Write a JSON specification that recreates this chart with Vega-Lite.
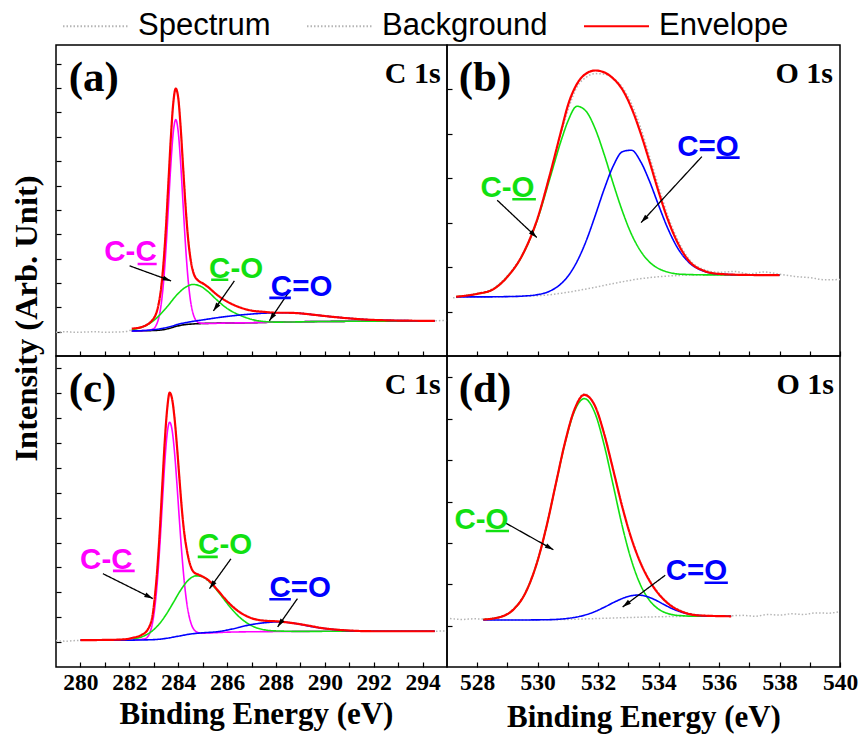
{
"$schema": "https://vega.github.io/schema/vega-lite/v6.json",
"padding": {"left": 9, "top": -8, "right": 4, "bottom": 2},
"config": {
  "view": {"stroke": "#000", "strokeWidth": 1.5},
  "axis": {"grid": false, "domain": false, "ticks": true, "tickColor": "#000", "tickSize": -5, "tickWidth": 1.2, "labelFont": "Liberation Serif", "labelFontWeight": "bold", "labelFontSize": 23.5, "labelColor": "#000", "titleFont": "Liberation Serif", "titleFontWeight": "bold", "titleFontSize": 31, "titleColor": "#000"}
},
"datasets": {
"A": [
{"s":"Spectrum","x":279.0,"y":7.6},{"s":"Spectrum","x":279.4,"y":7.8},{"s":"Spectrum","x":279.8,"y":7.6},{"s":"Spectrum","x":280.2,"y":7.7},{"s":"Spectrum","x":280.6,"y":7.8},{"s":"Spectrum","x":281.0,"y":7.6},{"s":"Spectrum","x":281.4,"y":7.7},{"s":"Spectrum","x":281.8,"y":7.8},{"s":"Spectrum","x":282.1,"y":8.4},{"s":"Spectrum","x":282.5,"y":9.4},{"s":"Spectrum","x":283.0,"y":12.3},{"s":"Spectrum","x":283.2,"y":16.9},{"s":"Spectrum","x":283.4,"y":30.5},{"s":"Spectrum","x":283.6,"y":56.5},{"s":"Spectrum","x":283.8,"y":81.8},{"s":"Spectrum","x":283.9,"y":86.0},{"s":"Spectrum","x":284.0,"y":83.4},{"s":"Spectrum","x":284.2,"y":61.8},{"s":"Spectrum","x":284.4,"y":39.0},{"s":"Spectrum","x":284.6,"y":27.9},{"s":"Spectrum","x":284.8,"y":24.5},{"s":"Spectrum","x":285.2,"y":22.3},{"s":"Spectrum","x":285.6,"y":19.7},{"s":"Spectrum","x":286.0,"y":17.6},{"s":"Spectrum","x":286.5,"y":15.8},{"s":"Spectrum","x":287.0,"y":14.7},{"s":"Spectrum","x":288.0,"y":14.0},{"s":"Spectrum","x":289.0,"y":13.8},{"s":"Spectrum","x":290.3,"y":12.7},{"s":"Spectrum","x":291.7,"y":11.8},{"s":"Spectrum","x":292.4,"y":11.5},{"s":"Spectrum","x":293.5,"y":11.4},{"s":"Spectrum","x":294.5,"y":11.3},{"s":"Spectrum","x":294.8,"y":11.4},{"s":"Spectrum","x":295.0,"y":11.3},
{"s":"Base","x":282.1,"y":8.05},{"s":"Base","x":282.8,"y":8.15},{"s":"Base","x":283.3,"y":8.35},{"s":"Base","x":283.6,"y":8.8},{"s":"Base","x":283.9,"y":9.5},{"s":"Base","x":284.2,"y":10.0},{"s":"Base","x":284.6,"y":10.3},{"s":"Base","x":285.0,"y":10.45},{"s":"Base","x":286.0,"y":10.6},{"s":"Base","x":287.0,"y":10.7},{"s":"Base","x":288.0,"y":10.9},{"s":"Base","x":290.0,"y":11.1},{"s":"Base","x":292.0,"y":11.2},{"s":"Base","x":294.5,"y":11.3},
{"s":"C-C","x":282.1,"y":8.05},{"s":"C-C","x":282.8,"y":8.3},{"s":"C-C","x":283.0,"y":8.8},{"s":"C-C","x":283.1,"y":9.9},{"s":"C-C","x":283.2,"y":12.1},{"s":"C-C","x":283.3,"y":16.4},{"s":"C-C","x":283.4,"y":23.7},{"s":"C-C","x":283.5,"y":34.5},{"s":"C-C","x":283.6,"y":48.0},{"s":"C-C","x":283.7,"y":61.6},{"s":"C-C","x":283.8,"y":72.0},{"s":"C-C","x":283.9,"y":76.0},{"s":"C-C","x":284.0,"y":72.2},{"s":"C-C","x":284.1,"y":62.1},{"s":"C-C","x":284.2,"y":48.8},{"s":"C-C","x":284.3,"y":35.6},{"s":"C-C","x":284.4,"y":25.1},{"s":"C-C","x":284.5,"y":18.0},{"s":"C-C","x":284.6,"y":13.9},{"s":"C-C","x":284.7,"y":11.8},{"s":"C-C","x":284.8,"y":10.9},{"s":"C-C","x":284.9,"y":10.6},{"s":"C-C","x":285.2,"y":10.45},{"s":"C-C","x":286.0,"y":10.6},{"s":"C-C","x":287.0,"y":10.7},{"s":"C-C","x":288.0,"y":10.9},{"s":"C-C","x":290.0,"y":11.1},{"s":"C-C","x":292.0,"y":11.2},{"s":"C-C","x":294.5,"y":11.3},
{"s":"C-O","x":282.1,"y":8.45},{"s":"C-O","x":282.5,"y":9.25},{"s":"C-O","x":283.0,"y":11.4},{"s":"C-O","x":283.5,"y":15.4},{"s":"C-O","x":284.0,"y":20.1},{"s":"C-O","x":284.3,"y":22.1},{"s":"C-O","x":284.6,"y":23.0},{"s":"C-O","x":284.9,"y":22.5},{"s":"C-O","x":285.2,"y":20.85},{"s":"C-O","x":285.6,"y":17.9},{"s":"C-O","x":286.0,"y":15.3},{"s":"C-O","x":286.5,"y":13.2},{"s":"C-O","x":287.0,"y":11.8},{"s":"C-O","x":287.5,"y":11.1},{"s":"C-O","x":288.0,"y":10.9},{"s":"C-O","x":290.0,"y":11.1},{"s":"C-O","x":292.0,"y":11.2},{"s":"C-O","x":294.5,"y":11.3},
{"s":"C=O","x":282.1,"y":8.05},{"s":"C=O","x":282.8,"y":8.3},{"s":"C=O","x":283.3,"y":8.8},{"s":"C=O","x":283.7,"y":9.5},{"s":"C=O","x":284.0,"y":10.2},{"s":"C=O","x":284.5,"y":11.0},{"s":"C=O","x":285.0,"y":11.6},{"s":"C=O","x":285.5,"y":12.2},{"s":"C=O","x":286.2,"y":12.9},{"s":"C=O","x":287.0,"y":13.5},{"s":"C=O","x":287.6,"y":13.8},{"s":"C=O","x":288.3,"y":13.9},{"s":"C=O","x":289.0,"y":13.7},{"s":"C=O","x":289.6,"y":13.2},{"s":"C=O","x":290.3,"y":12.6},{"s":"C=O","x":291.0,"y":12.1},{"s":"C=O","x":291.7,"y":11.7},{"s":"C=O","x":292.4,"y":11.5},{"s":"C=O","x":293.5,"y":11.35},{"s":"C=O","x":294.5,"y":11.3},
{"s":"Envelope","x":282.1,"y":8.8},{"s":"Envelope","x":282.5,"y":9.3},{"s":"Envelope","x":283.0,"y":12.1},{"s":"Envelope","x":283.1,"y":13.7},{"s":"Envelope","x":283.2,"y":16.7},{"s":"Envelope","x":283.3,"y":21.7},{"s":"Envelope","x":283.4,"y":29.9},{"s":"Envelope","x":283.5,"y":41.4},{"s":"Envelope","x":283.6,"y":55.8},{"s":"Envelope","x":283.7,"y":70.2},{"s":"Envelope","x":283.8,"y":81.4},{"s":"Envelope","x":283.9,"y":86.0},{"s":"Envelope","x":284.0,"y":83.1},{"s":"Envelope","x":284.1,"y":73.6},{"s":"Envelope","x":284.2,"y":60.9},{"s":"Envelope","x":284.3,"y":48.3},{"s":"Envelope","x":284.4,"y":38.2},{"s":"Envelope","x":284.5,"y":31.4},{"s":"Envelope","x":284.6,"y":27.4},{"s":"Envelope","x":284.7,"y":25.3},{"s":"Envelope","x":284.8,"y":24.4},{"s":"Envelope","x":284.9,"y":23.8},{"s":"Envelope","x":285.0,"y":23.4},{"s":"Envelope","x":285.2,"y":22.3},{"s":"Envelope","x":285.6,"y":19.6},{"s":"Envelope","x":286.0,"y":17.5},{"s":"Envelope","x":286.5,"y":15.7},{"s":"Envelope","x":287.0,"y":14.6},{"s":"Envelope","x":287.5,"y":14.2},{"s":"Envelope","x":288.0,"y":13.9},{"s":"Envelope","x":288.5,"y":13.9},{"s":"Envelope","x":289.0,"y":13.7},{"s":"Envelope","x":289.6,"y":13.2},{"s":"Envelope","x":290.3,"y":12.6},{"s":"Envelope","x":291.0,"y":12.1},{"s":"Envelope","x":291.7,"y":11.7},{"s":"Envelope","x":292.4,"y":11.5},{"s":"Envelope","x":293.5,"y":11.35},{"s":"Envelope","x":294.5,"y":11.3}
],
"B": [
{"s":"Spectrum","x":527.2,"y":18.7},{"s":"Spectrum","x":527.6,"y":19.2},{"s":"Spectrum","x":528.0,"y":20.1},{"s":"Spectrum","x":528.5,"y":21.6},{"s":"Spectrum","x":529.0,"y":25.8},{"s":"Spectrum","x":529.5,"y":32.8},{"s":"Spectrum","x":530.0,"y":44.5},{"s":"Spectrum","x":530.4,"y":58.3},{"s":"Spectrum","x":530.8,"y":72.5},{"s":"Spectrum","x":531.0,"y":79.0},{"s":"Spectrum","x":531.3,"y":86.5},{"s":"Spectrum","x":531.6,"y":89.6},{"s":"Spectrum","x":531.9,"y":90.8},{"s":"Spectrum","x":532.2,"y":90.6},{"s":"Spectrum","x":532.5,"y":89.3},{"s":"Spectrum","x":532.8,"y":86.4},{"s":"Spectrum","x":533.1,"y":81.2},{"s":"Spectrum","x":533.4,"y":73.6},{"s":"Spectrum","x":533.7,"y":64.2},{"s":"Spectrum","x":534.0,"y":54.5},{"s":"Spectrum","x":534.3,"y":45.2},{"s":"Spectrum","x":534.6,"y":38.0},{"s":"Spectrum","x":535.0,"y":31.2},{"s":"Spectrum","x":535.5,"y":27.8},{"s":"Spectrum","x":536.0,"y":26.9},{"s":"Spectrum","x":536.5,"y":27.2},{"s":"Spectrum","x":537.0,"y":26.4},{"s":"Spectrum","x":537.5,"y":27.0},{"s":"Spectrum","x":538.0,"y":26.3},{"s":"Spectrum","x":538.5,"y":25.6},{"s":"Spectrum","x":539.0,"y":25.2},{"s":"Spectrum","x":539.5,"y":24.5},{"s":"Spectrum","x":540.0,"y":24.6},
{"s":"Background","x":527.3,"y":19.0},{"s":"Background","x":528.0,"y":19.0},{"s":"Background","x":529.0,"y":19.1},{"s":"Background","x":529.5,"y":19.2},{"s":"Background","x":530.0,"y":19.4},{"s":"Background","x":530.4,"y":19.7},{"s":"Background","x":530.8,"y":20.2},{"s":"Background","x":531.3,"y":21.0},{"s":"Background","x":531.9,"y":22.1},{"s":"Background","x":532.5,"y":23.3},{"s":"Background","x":533.1,"y":24.4},{"s":"Background","x":533.7,"y":25.2},{"s":"Background","x":534.3,"y":25.7},{"s":"Background","x":535.0,"y":26.0},{"s":"Background","x":536.0,"y":26.1},{"s":"Background","x":537.0,"y":26.05},{"s":"Background","x":538.0,"y":26.0},
{"s":"C-O","x":527.3,"y":19.05},{"s":"C-O","x":528.0,"y":20.0},{"s":"C-O","x":528.5,"y":21.3},{"s":"C-O","x":529.0,"y":25.5},{"s":"C-O","x":529.5,"y":32.5},{"s":"C-O","x":530.0,"y":44.1},{"s":"C-O","x":530.4,"y":57.0},{"s":"C-O","x":530.8,"y":70.0},{"s":"C-O","x":531.0,"y":75.5},{"s":"C-O","x":531.3,"y":80.3},{"s":"C-O","x":531.6,"y":78.7},{"s":"C-O","x":531.9,"y":73.1},{"s":"C-O","x":532.2,"y":64.8},{"s":"C-O","x":532.5,"y":55.4},{"s":"C-O","x":532.8,"y":46.6},{"s":"C-O","x":533.1,"y":39.2},{"s":"C-O","x":533.4,"y":33.8},{"s":"C-O","x":533.7,"y":30.2},{"s":"C-O","x":534.0,"y":28.1},{"s":"C-O","x":534.3,"y":27.0},{"s":"C-O","x":534.6,"y":26.4},{"s":"C-O","x":535.0,"y":26.2},{"s":"C-O","x":535.5,"y":26.1},{"s":"C-O","x":536.0,"y":26.1},{"s":"C-O","x":537.0,"y":26.05},{"s":"C-O","x":538.0,"y":26.0},
{"s":"C=O","x":527.3,"y":19.0},{"s":"C=O","x":528.0,"y":19.0},{"s":"C=O","x":529.0,"y":19.1},{"s":"C=O","x":529.5,"y":19.26},{"s":"C=O","x":530.0,"y":19.74},{"s":"C=O","x":530.4,"y":20.86},{"s":"C=O","x":530.8,"y":23.47},{"s":"C=O","x":531.0,"y":25.64},{"s":"C=O","x":531.3,"y":30.36},{"s":"C=O","x":531.6,"y":36.91},{"s":"C=O","x":531.9,"y":45.06},{"s":"C=O","x":532.2,"y":53.67},{"s":"C=O","x":532.5,"y":61.11},{"s":"C=O","x":532.8,"y":65.68},{"s":"C=O","x":533.1,"y":66.18},{"s":"C=O","x":533.4,"y":62.61},{"s":"C=O","x":533.7,"y":56.17},{"s":"C=O","x":534.0,"y":48.46},{"s":"C=O","x":534.3,"y":41.11},{"s":"C=O","x":534.6,"y":35.21},{"s":"C=O","x":535.0,"y":30.12},{"s":"C=O","x":535.5,"y":27.26},{"s":"C=O","x":536.0,"y":26.35},{"s":"C=O","x":537.0,"y":26.05},{"s":"C=O","x":538.0,"y":26.0},
{"s":"Envelope","x":527.3,"y":19.05},{"s":"Envelope","x":528.0,"y":20.0},{"s":"Envelope","x":528.5,"y":21.3},{"s":"Envelope","x":529.0,"y":25.5},{"s":"Envelope","x":529.5,"y":32.6},{"s":"Envelope","x":530.0,"y":44.4},{"s":"Envelope","x":530.4,"y":58.2},{"s":"Envelope","x":530.8,"y":73.3},{"s":"Envelope","x":531.0,"y":80.6},{"s":"Envelope","x":531.3,"y":87.5},{"s":"Envelope","x":531.6,"y":90.8},{"s":"Envelope","x":531.9,"y":91.8},{"s":"Envelope","x":532.2,"y":91.2},{"s":"Envelope","x":532.5,"y":89.2},{"s":"Envelope","x":532.8,"y":85.7},{"s":"Envelope","x":533.1,"y":79.8},{"s":"Envelope","x":533.4,"y":71.8},{"s":"Envelope","x":533.7,"y":62.5},{"s":"Envelope","x":534.0,"y":52.8},{"s":"Envelope","x":534.3,"y":44.0},{"s":"Envelope","x":534.6,"y":37.0},{"s":"Envelope","x":535.0,"y":30.6},{"s":"Envelope","x":535.5,"y":27.4},{"s":"Envelope","x":536.0,"y":26.4},{"s":"Envelope","x":537.0,"y":26.05},{"s":"Envelope","x":538.0,"y":26.0}
],
"C": [
{"s":"Spectrum","x":279.0,"y":8.5},{"s":"Spectrum","x":279.4,"y":8.3},{"s":"Spectrum","x":279.8,"y":8.5},{"s":"Spectrum","x":280.5,"y":8.65},{"s":"Spectrum","x":281.5,"y":8.8},{"s":"Spectrum","x":282.2,"y":9.5},{"s":"Spectrum","x":282.6,"y":10.8},{"s":"Spectrum","x":282.9,"y":15.0},{"s":"Spectrum","x":283.1,"y":27.0},{"s":"Spectrum","x":283.3,"y":51.0},{"s":"Spectrum","x":283.5,"y":78.0},{"s":"Spectrum","x":283.65,"y":88.0},{"s":"Spectrum","x":283.8,"y":84.0},{"s":"Spectrum","x":284.0,"y":66.0},{"s":"Spectrum","x":284.2,"y":46.5},{"s":"Spectrum","x":284.4,"y":35.5},{"s":"Spectrum","x":284.6,"y":31.0},{"s":"Spectrum","x":285.0,"y":29.0},{"s":"Spectrum","x":285.5,"y":25.5},{"s":"Spectrum","x":286.0,"y":21.3},{"s":"Spectrum","x":286.6,"y":17.3},{"s":"Spectrum","x":287.2,"y":15.4},{"s":"Spectrum","x":288.1,"y":14.7},{"s":"Spectrum","x":289.0,"y":13.8},{"s":"Spectrum","x":290.0,"y":12.5},{"s":"Spectrum","x":291.0,"y":11.8},{"s":"Spectrum","x":292.5,"y":11.5},{"s":"Spectrum","x":294.5,"y":11.5},{"s":"Spectrum","x":294.8,"y":11.6},{"s":"Spectrum","x":295.0,"y":11.5},
{"s":"C-C","x":282.15,"y":8.65},{"s":"C-C","x":282.65,"y":9.1},{"s":"C-C","x":282.75,"y":9.7},{"s":"C-C","x":282.85,"y":11.2},{"s":"C-C","x":282.95,"y":14.2},{"s":"C-C","x":283.05,"y":19.55},{"s":"C-C","x":283.15,"y":27.8},{"s":"C-C","x":283.25,"y":39.15},{"s":"C-C","x":283.35,"y":52.4},{"s":"C-C","x":283.45,"y":65.5},{"s":"C-C","x":283.55,"y":75.1},{"s":"C-C","x":283.65,"y":78.7},{"s":"C-C","x":283.75,"y":76.2},{"s":"C-C","x":283.85,"y":69.05},{"s":"C-C","x":283.95,"y":58.7},{"s":"C-C","x":284.05,"y":47.2},{"s":"C-C","x":284.15,"y":36.35},{"s":"C-C","x":284.25,"y":27.4},{"s":"C-C","x":284.35,"y":20.7},{"s":"C-C","x":284.45,"y":16.25},{"s":"C-C","x":284.55,"y":13.5},{"s":"C-C","x":284.65,"y":12.0},{"s":"C-C","x":284.75,"y":11.3},{"s":"C-C","x":284.85,"y":11.0},{"s":"C-C","x":285.0,"y":10.9},{"s":"C-C","x":286.0,"y":11.2},{"s":"C-C","x":288.0,"y":11.4},{"s":"C-C","x":291.0,"y":11.5},{"s":"C-C","x":294.5,"y":11.5},
{"s":"C-O","x":282.15,"y":9.0},{"s":"C-O","x":282.5,"y":9.67},{"s":"C-O","x":282.9,"y":11.37},{"s":"C-O","x":283.2,"y":13.6},{"s":"C-O","x":283.5,"y":16.8},{"s":"C-O","x":283.8,"y":20.7},{"s":"C-O","x":284.1,"y":24.7},{"s":"C-O","x":284.4,"y":27.8},{"s":"C-O","x":284.73,"y":29.3},{"s":"C-O","x":285.0,"y":29.0},{"s":"C-O","x":285.3,"y":27.3},{"s":"C-O","x":285.6,"y":24.55},{"s":"C-O","x":285.9,"y":21.5},{"s":"C-O","x":286.2,"y":18.55},{"s":"C-O","x":286.6,"y":15.4},{"s":"C-O","x":287.0,"y":13.3},{"s":"C-O","x":287.5,"y":12.0},{"s":"C-O","x":288.0,"y":11.6},{"s":"C-O","x":289.0,"y":11.45},{"s":"C-O","x":291.0,"y":11.5},{"s":"C-O","x":294.5,"y":11.5},
{"s":"C=O","x":280.0,"y":8.65},{"s":"C=O","x":282.0,"y":8.65},{"s":"C=O","x":283.0,"y":8.8},{"s":"C=O","x":283.5,"y":9.2},{"s":"C=O","x":284.0,"y":9.9},{"s":"C=O","x":284.5,"y":10.6},{"s":"C=O","x":285.0,"y":11.0},{"s":"C=O","x":285.55,"y":11.3},{"s":"C=O","x":286.2,"y":12.2},{"s":"C=O","x":286.9,"y":13.5},{"s":"C=O","x":287.5,"y":14.2},{"s":"C=O","x":288.1,"y":14.5},{"s":"C=O","x":288.7,"y":14.1},{"s":"C=O","x":289.6,"y":12.8},{"s":"C=O","x":290.3,"y":12.1},{"s":"C=O","x":291.0,"y":11.65},{"s":"C=O","x":292.0,"y":11.5},{"s":"C=O","x":294.5,"y":11.5},
{"s":"Envelope","x":280.0,"y":8.65},{"s":"Envelope","x":281.0,"y":8.7},{"s":"Envelope","x":281.8,"y":8.9},{"s":"Envelope","x":282.15,"y":9.4},{"s":"Envelope","x":282.5,"y":10.3},{"s":"Envelope","x":282.75,"y":12.0},{"s":"Envelope","x":282.95,"y":16.5},{"s":"Envelope","x":283.05,"y":23.0},{"s":"Envelope","x":283.15,"y":32.0},{"s":"Envelope","x":283.25,"y":44.15},{"s":"Envelope","x":283.35,"y":58.5},{"s":"Envelope","x":283.45,"y":72.5},{"s":"Envelope","x":283.55,"y":83.0},{"s":"Envelope","x":283.65,"y":88.2},{"s":"Envelope","x":283.75,"y":86.2},{"s":"Envelope","x":283.85,"y":80.05},{"s":"Envelope","x":283.95,"y":71.0},{"s":"Envelope","x":284.05,"y":60.7},{"s":"Envelope","x":284.15,"y":50.75},{"s":"Envelope","x":284.25,"y":43.0},{"s":"Envelope","x":284.35,"y":37.8},{"s":"Envelope","x":284.45,"y":34.0},{"s":"Envelope","x":284.55,"y":31.6},{"s":"Envelope","x":284.65,"y":30.4},{"s":"Envelope","x":284.8,"y":29.8},{"s":"Envelope","x":285.0,"y":29.1},{"s":"Envelope","x":285.3,"y":27.5},{"s":"Envelope","x":285.6,"y":24.85},{"s":"Envelope","x":285.9,"y":22.1},{"s":"Envelope","x":286.2,"y":19.6},{"s":"Envelope","x":286.6,"y":17.2},{"s":"Envelope","x":287.0,"y":15.7},{"s":"Envelope","x":287.5,"y":14.9},{"s":"Envelope","x":288.1,"y":14.65},{"s":"Envelope","x":288.7,"y":14.1},{"s":"Envelope","x":289.3,"y":13.35},{"s":"Envelope","x":289.9,"y":12.5},{"s":"Envelope","x":290.5,"y":12.0},{"s":"Envelope","x":291.2,"y":11.65},{"s":"Envelope","x":292.0,"y":11.5},{"s":"Envelope","x":293.0,"y":11.5},{"s":"Envelope","x":294.5,"y":11.5}
],
"D": [
{"s":"Spectrum","x":527.1,"y":15.6},{"s":"Spectrum","x":527.5,"y":15.3},{"s":"Spectrum","x":527.9,"y":15.5},{"s":"Spectrum","x":528.2,"y":15.4},{"s":"Spectrum","x":528.8,"y":16.3},{"s":"Spectrum","x":529.2,"y":18.7},{"s":"Spectrum","x":529.6,"y":24.2},{"s":"Spectrum","x":530.0,"y":34.6},{"s":"Spectrum","x":530.3,"y":45.9},{"s":"Spectrum","x":530.6,"y":59.2},{"s":"Spectrum","x":530.9,"y":72.3},{"s":"Spectrum","x":531.2,"y":82.6},{"s":"Spectrum","x":531.54,"y":87.9},{"s":"Spectrum","x":531.9,"y":84.0},{"s":"Spectrum","x":532.2,"y":75.2},{"s":"Spectrum","x":532.5,"y":63.6},{"s":"Spectrum","x":532.8,"y":51.7},{"s":"Spectrum","x":533.1,"y":41.6},{"s":"Spectrum","x":533.4,"y":33.8},{"s":"Spectrum","x":533.7,"y":28.0},{"s":"Spectrum","x":534.0,"y":23.8},{"s":"Spectrum","x":534.4,"y":20.0},{"s":"Spectrum","x":534.8,"y":17.9},{"s":"Spectrum","x":535.3,"y":16.8},{"s":"Spectrum","x":535.8,"y":16.5},{"s":"Spectrum","x":536.4,"y":16.5},{"s":"Spectrum","x":536.8,"y":16.6},{"s":"Spectrum","x":537.2,"y":16.3},{"s":"Spectrum","x":537.6,"y":16.9},{"s":"Spectrum","x":538.0,"y":16.7},{"s":"Spectrum","x":538.4,"y":17.1},{"s":"Spectrum","x":538.8,"y":16.9},{"s":"Spectrum","x":539.2,"y":17.4},{"s":"Spectrum","x":539.6,"y":17.3},{"s":"Spectrum","x":540.0,"y":17.8},
{"s":"Background","x":528.2,"y":15.1},{"s":"Background","x":530.0,"y":15.15},{"s":"Background","x":531.0,"y":15.3},{"s":"Background","x":532.0,"y":15.6},{"s":"Background","x":533.0,"y":15.9},{"s":"Background","x":534.0,"y":16.15},{"s":"Background","x":535.0,"y":16.3},{"s":"Background","x":536.4,"y":16.3},
{"s":"C-O","x":528.2,"y":15.25},{"s":"C-O","x":528.8,"y":16.2},{"s":"C-O","x":529.2,"y":18.5},{"s":"C-O","x":529.6,"y":23.95},{"s":"C-O","x":530.0,"y":34.25},{"s":"C-O","x":530.3,"y":45.5},{"s":"C-O","x":530.6,"y":58.8},{"s":"C-O","x":530.9,"y":71.8},{"s":"C-O","x":531.2,"y":81.85},{"s":"C-O","x":531.54,"y":86.3},{"s":"C-O","x":531.9,"y":81.5},{"s":"C-O","x":532.2,"y":71.35},{"s":"C-O","x":532.5,"y":58.35},{"s":"C-O","x":532.8,"y":45.2},{"s":"C-O","x":533.1,"y":34.3},{"s":"C-O","x":533.4,"y":26.4},{"s":"C-O","x":533.7,"y":21.4},{"s":"C-O","x":534.0,"y":18.6},{"s":"C-O","x":534.4,"y":16.95},{"s":"C-O","x":534.8,"y":16.47},{"s":"C-O","x":535.3,"y":16.3},{"s":"C-O","x":536.4,"y":16.3},
{"s":"C=O","x":528.2,"y":15.1},{"s":"C=O","x":529.0,"y":15.1},{"s":"C=O","x":530.0,"y":15.16},{"s":"C=O","x":530.5,"y":15.25},{"s":"C=O","x":531.0,"y":15.64},{"s":"C=O","x":531.4,"y":16.29},{"s":"C=O","x":531.8,"y":17.45},{"s":"C=O","x":532.2,"y":19.2},{"s":"C=O","x":532.6,"y":21.17},{"s":"C=O","x":533.0,"y":22.69},{"s":"C=O","x":533.3,"y":23.13},{"s":"C=O","x":533.6,"y":22.71},{"s":"C=O","x":533.9,"y":21.52},{"s":"C=O","x":534.2,"y":19.97},{"s":"C=O","x":534.5,"y":18.54},{"s":"C=O","x":534.8,"y":17.5},{"s":"C=O","x":535.2,"y":16.73},{"s":"C=O","x":535.7,"y":16.38},{"s":"C=O","x":536.4,"y":16.3},
{"s":"Envelope","x":528.2,"y":15.25},{"s":"Envelope","x":528.8,"y":16.2},{"s":"Envelope","x":529.2,"y":18.5},{"s":"Envelope","x":529.6,"y":23.95},{"s":"Envelope","x":530.0,"y":34.3},{"s":"Envelope","x":530.3,"y":45.55},{"s":"Envelope","x":530.6,"y":58.9},{"s":"Envelope","x":530.9,"y":72.05},{"s":"Envelope","x":531.2,"y":82.35},{"s":"Envelope","x":531.54,"y":87.5},{"s":"Envelope","x":531.9,"y":83.84},{"s":"Envelope","x":532.2,"y":74.9},{"s":"Envelope","x":532.5,"y":63.3},{"s":"Envelope","x":532.8,"y":51.4},{"s":"Envelope","x":533.1,"y":41.3},{"s":"Envelope","x":533.4,"y":33.5},{"s":"Envelope","x":533.7,"y":27.7},{"s":"Envelope","x":534.0,"y":23.5},{"s":"Envelope","x":534.4,"y":19.75},{"s":"Envelope","x":534.8,"y":17.7},{"s":"Envelope","x":535.3,"y":16.6},{"s":"Envelope","x":536.4,"y":16.3}
],
"lab": [
{"p":"a","s":"C-C","x":282.05,"y":30.6},{"p":"a","s":"C-O","x":286.37,"y":25.2},{"p":"a","s":"C=O","x":289.05,"y":19.3},
{"p":"b","s":"C-O","x":529.0,"y":51.0},{"p":"b","s":"C=O","x":535.63,"y":64.4},
{"p":"c","s":"C-C","x":281.06,"y":31.6},{"p":"c","s":"C-O","x":285.92,"y":36.2},{"p":"c","s":"C=O","x":288.99,"y":22.5},
{"p":"d","s":"C-O","x":528.14,"y":44.5},{"p":"d","s":"C=O","x":535.25,"y":27.9}
],
"ul": [
{"p":"a","s":"C-C","x":282.34,"x2":283.12,"y":29.6},{"p":"a","s":"C-O","x":285.35,"x2":286.05,"y":24.5},{"p":"a","s":"C=O","x":287.73,"x2":288.61,"y":18.7},
{"p":"b","s":"C-O","x":529.16,"x2":529.94,"y":50.4},{"p":"b","s":"C=O","x":535.91,"x2":536.68,"y":63.8},
{"p":"c","s":"C-C","x":281.33,"x2":282.22,"y":30.9},{"p":"c","s":"C-O","x":284.8,"x2":285.62,"y":35.4},{"p":"c","s":"C=O","x":287.73,"x2":288.61,"y":21.8},
{"p":"d","s":"C-O","x":528.28,"x2":529.05,"y":43.75},{"p":"d","s":"C=O","x":535.52,"x2":536.29,"y":27.1}
],
"ar": [
{"p":"a","id":"cc","x":283.71,"y":24.15,"x2":282.01,"y2":29.0},{"p":"a","id":"co","x":285.44,"y":14.5,"x2":286.3,"y2":24.15},{"p":"a","id":"c2o","x":287.73,"y":11.3,"x2":288.54,"y2":20.7},
{"p":"b","id":"co","x":529.97,"y":38.1,"x2":528.66,"y2":50.1},{"p":"b","id":"c2o","x":533.42,"y":42.9,"x2":535.43,"y2":64.1},
{"p":"c","id":"cc","x":282.96,"y":22.0,"x2":280.92,"y2":30.0},{"p":"c","id":"co","x":285.28,"y":25.2,"x2":286.16,"y2":34.8},{"p":"c","id":"c2o","x":288.07,"y":12.9,"x2":288.88,"y2":22.0},
{"p":"d","id":"co","x":530.52,"y":37.7,"x2":528.94,"y2":46.3},{"p":"d","id":"c2o","x":532.81,"y":19.3,"x2":534.22,"y2":29.5}
],
"pl": [
{"p":"a","k":"n","t":"(a)","x":279.52,"y":85.2},{"p":"a","k":"l","t":"C 1s","x":294.74,"y":87.9},
{"p":"b","k":"n","t":"(b)","x":527.39,"y":85.2},{"p":"b","k":"l","t":"O 1s","x":539.77,"y":87.9},
{"p":"c","k":"n","t":"(c)","x":279.52,"y":85.3},{"p":"c","k":"l","t":"C 1s","x":294.74,"y":87.8},
{"p":"d","k":"n","t":"(d)","x":527.39,"y":85.3},{"p":"d","k":"l","t":"O 1s","x":539.8,"y":87.8}
]
},
"columns": 2,
"spacing": 0,
"bounds": "flush",
"align": "each",
"concat": [
{
 "width": 391, "height": 311,
 "encoding": {
  "x": {"field":"x","type":"quantitative","scale":{"domain":[279,295],"nice":false,"zero":false},"axis":{"values":[280,281,282,283,284,285,286,287,288,289,290,291,292,293,294],"labels":false,"title":null}},
  "y": {"field":"y","type":"quantitative","scale":{"domain":[0,100],"nice":false,"zero":false},"axis":{"values":[7.83,15.66,23.49,31.32,39.15,46.98,54.81,62.64,70.47,78.3,86.13,93.96],"labels":false,"title":"Intensity (Arb. Unit)","titleX":-13,"titleY":273,"titleBaseline":"bottom","titleFontSize":32.5}},
  "color": {"field":"s","type":"nominal","scale":{"domain":["Spectrum","Background","Envelope","C-C","C-O","C=O","Base"],"range":["#b5b5b5","#b5b5b5","#ff0000","#ff00ff","#11e011","#0000ff","#000000"]},"legend":{"values":["Spectrum","Background","Envelope"],"title":null,"orient":"none","legendX":6,"legendY":-52.5,"direction":"horizontal","symbolType":"stroke","symbolSize":4225,"symbolStrokeWidth":2,"labelFont":"Liberation Sans","labelFontSize":31,"labelColor":"#000","labelLimit":0,"labelOffset":9,"columnPadding":32,"padding":0}},
  "strokeDash": {"field":"s","type":"nominal","scale":{"domain":["Spectrum","Background","Envelope","C-C","C-O","C=O","Base"],"range":[[1.5,2],[1.5,2],[1,0],[1,0],[1,0],[1,0],[1,0]]},"legend":{"values":["Spectrum","Background","Envelope"],"title":null,"orient":"none","legendX":6,"legendY":-52.5,"direction":"horizontal","symbolType":"stroke","symbolSize":4225,"symbolStrokeWidth":2,"labelFont":"Liberation Sans","labelFontSize":31,"labelColor":"#000","labelLimit":0,"labelOffset":9,"columnPadding":32,"padding":0}}
 },
 "layer": [
  {"data":{"name":"A"},"transform":[{"filter":"datum.s=='Spectrum'||datum.s=='Background'"}],"mark":{"type":"line","interpolate":"monotone","strokeWidth":1.5}},
  {"data":{"name":"A"},"transform":[{"filter":"datum.s=='Base'||datum.s=='C=O'||datum.s=='C-O'||datum.s=='C-C'"}],"mark":{"type":"line","interpolate":"monotone","strokeWidth":1.6}},
  {"data":{"name":"A"},"transform":[{"filter":"datum.s=='Envelope'"}],"mark":{"type":"line","interpolate":"monotone","strokeWidth":2.2}},
  {"data":{"name":"ar"},"transform":[{"filter":"datum.p=='a'"}],"mark":{"type":"rule","strokeWidth":1.3},"encoding":{"x2":{"field":"x2"},"y2":{"field":"y2"},"color":{"value":"#000"},"strokeDash":{"value":[1,0]}}},
  {"data":{"name":"ar"},"transform":[{"filter":"datum.p=='a'&&datum.id=='cc'"}],"mark":{"type":"point","shape":"M0,0L0.5,1.7L-0.5,1.7Z","filled":true,"opacity":1,"size":100,"angle":110},"encoding":{"color":{"value":"#000"},"strokeDash":{"value":[1,0]}}},
  {"data":{"name":"ar"},"transform":[{"filter":"datum.p=='a'&&datum.id=='co'"}],"mark":{"type":"point","shape":"M0,0L0.5,1.7L-0.5,1.7Z","filled":true,"opacity":1,"size":100,"angle":215},"encoding":{"color":{"value":"#000"},"strokeDash":{"value":[1,0]}}},
  {"data":{"name":"ar"},"transform":[{"filter":"datum.p=='a'&&datum.id=='c2o'"}],"mark":{"type":"point","shape":"M0,0L0.5,1.7L-0.5,1.7Z","filled":true,"opacity":1,"size":100,"angle":214},"encoding":{"color":{"value":"#000"},"strokeDash":{"value":[1,0]}}},
  {"data":{"name":"ul"},"transform":[{"filter":"datum.p=='a'"}],"mark":{"type":"rule","strokeWidth":2.6},"encoding":{"x2":{"field":"x2"},"strokeDash":{"value":[1,0]}}},
  {"data":{"name":"lab"},"transform":[{"filter":"datum.p=='a'"}],"mark":{"type":"text","font":"Liberation Sans","fontWeight":"bold","fontSize":29.5,"align":"center","baseline":"alphabetic"},"encoding":{"text":{"field":"s"},"strokeDash":{"value":[1,0]}}},
  {"data":{"name":"pl"},"transform":[{"filter":"datum.p=='a'&&datum.k=='n'"}],"mark":{"type":"text","font":"Liberation Serif","fontWeight":"bold","fontSize":43,"align":"left","baseline":"alphabetic"},"encoding":{"text":{"field":"t"},"color":{"value":"#000"},"strokeDash":{"value":[1,0]}}},
  {"data":{"name":"pl"},"transform":[{"filter":"datum.p=='a'&&datum.k=='l'"}],"mark":{"type":"text","font":"Liberation Serif","fontWeight":"bold","fontSize":30,"align":"right","baseline":"alphabetic"},"encoding":{"text":{"field":"t"},"color":{"value":"#000"},"strokeDash":{"value":[1,0]}}}
 ]
},
{
 "width": 393, "height": 311,
 "encoding": {
  "x": {"field":"x","type":"quantitative","scale":{"domain":[527,540],"nice":false,"zero":false},"axis":{"values":[528,529,530,531,532,533,534,535,536,537,538,539,540],"labels":false,"title":null}},
  "y": {"field":"y","type":"quantitative","scale":{"domain":[0,100],"nice":false,"zero":false},"axis":{"values":[14.3,28.6,42.9,57.2,71.5,85.8],"labels":false,"title":null}},
  "color": {"field":"s","type":"nominal","scale":{"domain":["Spectrum","Background","Envelope","C-C","C-O","C=O","Base"],"range":["#b5b5b5","#b5b5b5","#ff0000","#ff00ff","#11e011","#0000ff","#000000"]},"legend":{"values":["Spectrum","Background","Envelope"],"title":null,"orient":"none","legendX":6,"legendY":-52.5,"direction":"horizontal","symbolType":"stroke","symbolSize":4225,"symbolStrokeWidth":2,"labelFont":"Liberation Sans","labelFontSize":31,"labelColor":"#000","labelLimit":0,"labelOffset":9,"columnPadding":32,"padding":0}},
  "strokeDash": {"field":"s","type":"nominal","scale":{"domain":["Spectrum","Background","Envelope","C-C","C-O","C=O","Base"],"range":[[1.5,2],[1.5,2],[1,0],[1,0],[1,0],[1,0],[1,0]]},"legend":{"values":["Spectrum","Background","Envelope"],"title":null,"orient":"none","legendX":6,"legendY":-52.5,"direction":"horizontal","symbolType":"stroke","symbolSize":4225,"symbolStrokeWidth":2,"labelFont":"Liberation Sans","labelFontSize":31,"labelColor":"#000","labelLimit":0,"labelOffset":9,"columnPadding":32,"padding":0}}
 },
 "layer": [
  {"data":{"name":"B"},"transform":[{"filter":"datum.s=='Spectrum'||datum.s=='Background'"}],"mark":{"type":"line","interpolate":"monotone","strokeWidth":1.5}},
  {"data":{"name":"B"},"transform":[{"filter":"datum.s=='Base'||datum.s=='C=O'||datum.s=='C-O'||datum.s=='C-C'"}],"mark":{"type":"line","interpolate":"monotone","strokeWidth":1.6}},
  {"data":{"name":"B"},"transform":[{"filter":"datum.s=='Envelope'"}],"mark":{"type":"line","interpolate":"monotone","strokeWidth":2.2}},
  {"data":{"name":"ar"},"transform":[{"filter":"datum.p=='b'"}],"mark":{"type":"rule","strokeWidth":1.3},"encoding":{"x2":{"field":"x2"},"y2":{"field":"y2"},"color":{"value":"#000"},"strokeDash":{"value":[1,0]}}},
  {"data":{"name":"ar"},"transform":[{"filter":"datum.p=='b'&&datum.id=='co'"}],"mark":{"type":"point","shape":"M0,0L0.5,1.7L-0.5,1.7Z","filled":true,"opacity":1,"size":100,"angle":134},"encoding":{"color":{"value":"#000"},"strokeDash":{"value":[1,0]}}},
  {"data":{"name":"ar"},"transform":[{"filter":"datum.p=='b'&&datum.id=='c2o'"}],"mark":{"type":"point","shape":"M0,0L0.5,1.7L-0.5,1.7Z","filled":true,"opacity":1,"size":100,"angle":223},"encoding":{"color":{"value":"#000"},"strokeDash":{"value":[1,0]}}},
  {"data":{"name":"ul"},"transform":[{"filter":"datum.p=='b'"}],"mark":{"type":"rule","strokeWidth":2.6},"encoding":{"x2":{"field":"x2"},"strokeDash":{"value":[1,0]}}},
  {"data":{"name":"lab"},"transform":[{"filter":"datum.p=='b'"}],"mark":{"type":"text","font":"Liberation Sans","fontWeight":"bold","fontSize":29.5,"align":"center","baseline":"alphabetic"},"encoding":{"text":{"field":"s"},"strokeDash":{"value":[1,0]}}},
  {"data":{"name":"pl"},"transform":[{"filter":"datum.p=='b'&&datum.k=='n'"}],"mark":{"type":"text","font":"Liberation Serif","fontWeight":"bold","fontSize":43,"align":"left","baseline":"alphabetic"},"encoding":{"text":{"field":"t"},"color":{"value":"#000"},"strokeDash":{"value":[1,0]}}},
  {"data":{"name":"pl"},"transform":[{"filter":"datum.p=='b'&&datum.k=='l'"}],"mark":{"type":"text","font":"Liberation Serif","fontWeight":"bold","fontSize":30,"align":"right","baseline":"alphabetic"},"encoding":{"text":{"field":"t"},"color":{"value":"#000"},"strokeDash":{"value":[1,0]}}}
 ]
},
{
 "width": 391, "height": 311,
 "encoding": {
  "x": {"field":"x","type":"quantitative","scale":{"domain":[279,295],"nice":false,"zero":false},"axis":{"values":[280,281,282,283,284,285,286,287,288,289,290,291,292,293,294],"labelExpr":"datum.value % 2 == 0 ? datum.label : ''","labelOverlap":false,"labelFlush":false,"labelPadding":8,"title":"Binding Energy (eV)","titlePadding":6,"titleX":200}},
  "y": {"field":"y","type":"quantitative","scale":{"domain":[0,100],"nice":false,"zero":false},"axis":{"values":[8,16,24,32,40,48,56,64,72,80,88,96],"labels":false,"title":null}},
  "color": {"field":"s","type":"nominal","scale":{"domain":["Spectrum","Background","Envelope","C-C","C-O","C=O","Base"],"range":["#b5b5b5","#b5b5b5","#ff0000","#ff00ff","#11e011","#0000ff","#000000"]},"legend":{"values":["Spectrum","Background","Envelope"],"title":null,"orient":"none","legendX":6,"legendY":-52.5,"direction":"horizontal","symbolType":"stroke","symbolSize":4225,"symbolStrokeWidth":2,"labelFont":"Liberation Sans","labelFontSize":31,"labelColor":"#000","labelLimit":0,"labelOffset":9,"columnPadding":32,"padding":0}},
  "strokeDash": {"field":"s","type":"nominal","scale":{"domain":["Spectrum","Background","Envelope","C-C","C-O","C=O","Base"],"range":[[1.5,2],[1.5,2],[1,0],[1,0],[1,0],[1,0],[1,0]]},"legend":{"values":["Spectrum","Background","Envelope"],"title":null,"orient":"none","legendX":6,"legendY":-52.5,"direction":"horizontal","symbolType":"stroke","symbolSize":4225,"symbolStrokeWidth":2,"labelFont":"Liberation Sans","labelFontSize":31,"labelColor":"#000","labelLimit":0,"labelOffset":9,"columnPadding":32,"padding":0}}
 },
 "layer": [
  {"data":{"name":"C"},"transform":[{"filter":"datum.s=='Spectrum'||datum.s=='Background'"}],"mark":{"type":"line","interpolate":"monotone","strokeWidth":1.5}},
  {"data":{"name":"C"},"transform":[{"filter":"datum.s=='Base'||datum.s=='C=O'||datum.s=='C-O'||datum.s=='C-C'"}],"mark":{"type":"line","interpolate":"monotone","strokeWidth":1.6}},
  {"data":{"name":"C"},"transform":[{"filter":"datum.s=='Envelope'"}],"mark":{"type":"line","interpolate":"monotone","strokeWidth":2.2}},
  {"data":{"name":"ar"},"transform":[{"filter":"datum.p=='c'"}],"mark":{"type":"rule","strokeWidth":1.3},"encoding":{"x2":{"field":"x2"},"y2":{"field":"y2"},"color":{"value":"#000"},"strokeDash":{"value":[1,0]}}},
  {"data":{"name":"ar"},"transform":[{"filter":"datum.p=='c'&&datum.id=='cc'"}],"mark":{"type":"point","shape":"M0,0L0.5,1.7L-0.5,1.7Z","filled":true,"opacity":1,"size":100,"angle":117},"encoding":{"color":{"value":"#000"},"strokeDash":{"value":[1,0]}}},
  {"data":{"name":"ar"},"transform":[{"filter":"datum.p=='c'&&datum.id=='co'"}],"mark":{"type":"point","shape":"M0,0L0.5,1.7L-0.5,1.7Z","filled":true,"opacity":1,"size":100,"angle":216},"encoding":{"color":{"value":"#000"},"strokeDash":{"value":[1,0]}}},
  {"data":{"name":"ar"},"transform":[{"filter":"datum.p=='c'&&datum.id=='c2o'"}],"mark":{"type":"point","shape":"M0,0L0.5,1.7L-0.5,1.7Z","filled":true,"opacity":1,"size":100,"angle":215},"encoding":{"color":{"value":"#000"},"strokeDash":{"value":[1,0]}}},
  {"data":{"name":"ul"},"transform":[{"filter":"datum.p=='c'"}],"mark":{"type":"rule","strokeWidth":2.6},"encoding":{"x2":{"field":"x2"},"strokeDash":{"value":[1,0]}}},
  {"data":{"name":"lab"},"transform":[{"filter":"datum.p=='c'"}],"mark":{"type":"text","font":"Liberation Sans","fontWeight":"bold","fontSize":29.5,"align":"center","baseline":"alphabetic"},"encoding":{"text":{"field":"s"},"strokeDash":{"value":[1,0]}}},
  {"data":{"name":"pl"},"transform":[{"filter":"datum.p=='c'&&datum.k=='n'"}],"mark":{"type":"text","font":"Liberation Serif","fontWeight":"bold","fontSize":43,"align":"left","baseline":"alphabetic"},"encoding":{"text":{"field":"t"},"color":{"value":"#000"},"strokeDash":{"value":[1,0]}}},
  {"data":{"name":"pl"},"transform":[{"filter":"datum.p=='c'&&datum.k=='l'"}],"mark":{"type":"text","font":"Liberation Serif","fontWeight":"bold","fontSize":30,"align":"right","baseline":"alphabetic"},"encoding":{"text":{"field":"t"},"color":{"value":"#000"},"strokeDash":{"value":[1,0]}}}
 ]
},
{
 "width": 393, "height": 311,
 "encoding": {
  "x": {"field":"x","type":"quantitative","scale":{"domain":[527,540],"nice":false,"zero":false},"axis":{"values":[528,529,530,531,532,533,534,535,536,537,538,539,540],"labelExpr":"datum.value % 2 == 0 ? datum.label : ''","labelOverlap":false,"labelFlush":false,"labelPadding":8,"title":"Binding Energy (eV)","titlePadding":9}},
  "y": {"field":"y","type":"quantitative","scale":{"domain":[0,100],"nice":false,"zero":false},"axis":{"values":[13.3,26.6,39.9,53.2,66.5,79.8,93.1],"labels":false,"title":null}},
  "color": {"field":"s","type":"nominal","scale":{"domain":["Spectrum","Background","Envelope","C-C","C-O","C=O","Base"],"range":["#b5b5b5","#b5b5b5","#ff0000","#ff00ff","#11e011","#0000ff","#000000"]},"legend":{"values":["Spectrum","Background","Envelope"],"title":null,"orient":"none","legendX":6,"legendY":-52.5,"direction":"horizontal","symbolType":"stroke","symbolSize":4225,"symbolStrokeWidth":2,"labelFont":"Liberation Sans","labelFontSize":31,"labelColor":"#000","labelLimit":0,"labelOffset":9,"columnPadding":32,"padding":0}},
  "strokeDash": {"field":"s","type":"nominal","scale":{"domain":["Spectrum","Background","Envelope","C-C","C-O","C=O","Base"],"range":[[1.5,2],[1.5,2],[1,0],[1,0],[1,0],[1,0],[1,0]]},"legend":{"values":["Spectrum","Background","Envelope"],"title":null,"orient":"none","legendX":6,"legendY":-52.5,"direction":"horizontal","symbolType":"stroke","symbolSize":4225,"symbolStrokeWidth":2,"labelFont":"Liberation Sans","labelFontSize":31,"labelColor":"#000","labelLimit":0,"labelOffset":9,"columnPadding":32,"padding":0}}
 },
 "layer": [
  {"data":{"name":"D"},"transform":[{"filter":"datum.s=='Spectrum'||datum.s=='Background'"}],"mark":{"type":"line","interpolate":"monotone","strokeWidth":1.5}},
  {"data":{"name":"D"},"transform":[{"filter":"datum.s=='Base'||datum.s=='C=O'||datum.s=='C-O'||datum.s=='C-C'"}],"mark":{"type":"line","interpolate":"monotone","strokeWidth":1.6}},
  {"data":{"name":"D"},"transform":[{"filter":"datum.s=='Envelope'"}],"mark":{"type":"line","interpolate":"monotone","strokeWidth":2.2}},
  {"data":{"name":"ar"},"transform":[{"filter":"datum.p=='d'"}],"mark":{"type":"rule","strokeWidth":1.3},"encoding":{"x2":{"field":"x2"},"y2":{"field":"y2"},"color":{"value":"#000"},"strokeDash":{"value":[1,0]}}},
  {"data":{"name":"ar"},"transform":[{"filter":"datum.p=='d'&&datum.id=='co'"}],"mark":{"type":"point","shape":"M0,0L0.5,1.7L-0.5,1.7Z","filled":true,"opacity":1,"size":100,"angle":119},"encoding":{"color":{"value":"#000"},"strokeDash":{"value":[1,0]}}},
  {"data":{"name":"ar"},"transform":[{"filter":"datum.p=='d'&&datum.id=='c2o'"}],"mark":{"type":"point","shape":"M0,0L0.5,1.7L-0.5,1.7Z","filled":true,"opacity":1,"size":100,"angle":233},"encoding":{"color":{"value":"#000"},"strokeDash":{"value":[1,0]}}},
  {"data":{"name":"ul"},"transform":[{"filter":"datum.p=='d'"}],"mark":{"type":"rule","strokeWidth":2.6},"encoding":{"x2":{"field":"x2"},"strokeDash":{"value":[1,0]}}},
  {"data":{"name":"lab"},"transform":[{"filter":"datum.p=='d'"}],"mark":{"type":"text","font":"Liberation Sans","fontWeight":"bold","fontSize":29.5,"align":"center","baseline":"alphabetic"},"encoding":{"text":{"field":"s"},"strokeDash":{"value":[1,0]}}},
  {"data":{"name":"pl"},"transform":[{"filter":"datum.p=='d'&&datum.k=='n'"}],"mark":{"type":"text","font":"Liberation Serif","fontWeight":"bold","fontSize":43,"align":"left","baseline":"alphabetic"},"encoding":{"text":{"field":"t"},"color":{"value":"#000"},"strokeDash":{"value":[1,0]}}},
  {"data":{"name":"pl"},"transform":[{"filter":"datum.p=='d'&&datum.k=='l'"}],"mark":{"type":"text","font":"Liberation Serif","fontWeight":"bold","fontSize":30,"align":"right","baseline":"alphabetic"},"encoding":{"text":{"field":"t"},"color":{"value":"#000"},"strokeDash":{"value":[1,0]}}}
 ]
}
]
}
